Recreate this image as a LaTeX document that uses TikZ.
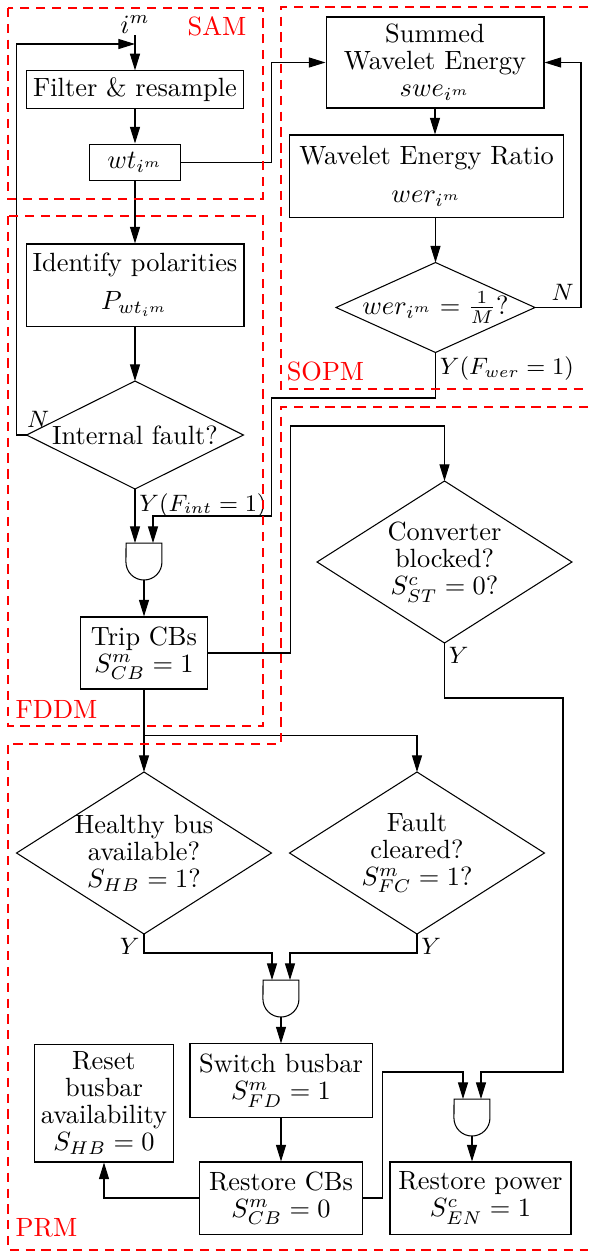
\documentclass[tikz,border=0pt]{standalone}
\usepackage{amsmath}
\usetikzlibrary{arrows.meta,shapes.geometric}

% AND gate with a flat top and a round bottom: #1 name, #2 centre
\newcommand{\andgate}[2]{%
  \node[gate] (#1) at (#2) {};
  \draw (#1.north west) -- (#1.north east) -- ++(0,-19)
    arc[start angle=0, end angle=-180, radius=18] -- cycle;
  \path (#1.north) ++(-9,0) coordinate (#1-l)
        (#1.north) ++(9,0) coordinate (#1-r);
}

\begin{document}
\begin{tikzpicture}[
    x=0.379pt, y=0.379pt,
    font=\fontsize{10}{10.3}\selectfont,
    box/.style={rectangle, draw, align=center, inner sep=2.5pt},
    decision/.style={diamond, draw, align=center, aspect=1.6, inner sep=-2pt, outer sep=0pt},
    gate/.style={rectangle, minimum width=13.6pt, minimum height=14pt, inner sep=0pt, outer sep=0pt},
    arrow/.style={-{Triangle[length=6.3pt, width=3.8pt]}},
    region/.style={draw=red, thick, dash pattern=on 3.5pt off 2.5pt},
    regionlabel/.style={text=red, inner sep=0pt},
    lbl/.style={inner sep=1.5pt, font=\small}
]
    \useasboundingbox (0,0) rectangle (588,-1253);

    % fault detection chain
    \node[anchor=south, inner sep=0.5pt] (im) at (135,-35) {$i^m$};
    \coordinate (join) at (135,-44);
    \node[box, minimum width=82.2pt, minimum height=14pt] (filter) at (135,-89.5) {Filter \& resample};
    \node[box, minimum width=34.5pt, minimum height=14pt] (wt) at (135,-162.5) {$wt_{i^m}$};
    \node[box, minimum width=82.2pt, minimum height=31.1pt] (ident) at (135,-285) {Identify polarities\\[4pt] $P_{wt_{i^m}}$};
    \node[decision, aspect=2, minimum width=82.2pt, minimum height=40.9pt] (fault) at (135,-435) {Internal fault?};
    \andgate{and1}{144,-561.5}
    \node[box, minimum width=48.1pt, minimum height=27.3pt] (trip) at (144,-653) {Trip CBs\\ $S^m_{CB}=1$};

    % wavelet energy branch
    \node[box, minimum width=82.6pt, minimum height=34.5pt] (summed) at (435,-62.5) {Summed\\ Wavelet Energy\\ $swe_{i^m}$};
    \node[box, minimum width=103.5pt, minimum height=31.1pt] (werbox) at (426.5,-176) {Wavelet Energy Ratio\\[4pt] $wer_{i^m}$};
    \node[decision, aspect=2.2, inner sep=-3pt, minimum width=75.4pt, minimum height=34.1pt] (werq) at (435.5,-307.5) {$wer_{i^m}=\frac{1}{M}$?};

    % restoration
    \node[decision, minimum width=96.6pt, minimum height=61.4pt] (conv) at (444.5,-562) {Converter\\ blocked?\\ $S^c_{ST}=0$?};
    \node[decision, minimum width=96.6pt, minimum height=61.4pt] (healthy) at (144,-853) {Healthy bus\\ available?\\ $S_{HB}=1$?};
    \node[decision, minimum width=96.6pt, minimum height=61.4pt] (cleared) at (417,-853) {Fault\\ cleared?\\ $S^m_{FC}=1$?};
    \andgate{and2}{281,-998.5}
    \node[box, minimum width=69pt, minimum height=27.7pt] (switch) at (281,-1080.5) {Switch busbar\\ $S^m_{FD}=1$};
    \node[box, minimum width=51.5pt, minimum height=44.7pt] (reset) at (104,-1103) {Reset\\ busbar\\ availability\\ $S_{HB}=0$};
    \node[box, minimum width=61.8pt, minimum height=27.3pt] (rcb) at (281,-1198) {Restore CBs\\ $S^m_{CB}=0$};
    \andgate{and3}{472,-1117.5}
    \node[box, minimum width=68.6pt, minimum height=27.3pt] (power) at (480.5,-1198) {Restore power\\ $S^c_{EN}=1$};

    % connectors
    \draw[arrow] (im) -- (filter);
    \draw[arrow] (filter) -- (wt);
    \draw[arrow] (wt) -- (ident);
    \draw[arrow] (ident) -- (fault);
    \draw[arrow] (fault.west) node[lbl, anchor=south west, inner xsep=0pt, inner ysep=2.5pt] {$N$} -- ++(-10,0) |- (join);
    \draw[arrow] (fault.south) node[lbl, anchor=north west] {$Y(F_{int}=1)$} -- (and1-l);
    \draw[arrow] (wt.east) -- ++(90,0) |- (summed.west);
    \draw[arrow] (summed.south) -- (summed.south |- werbox.north);
    \draw[arrow] (werq.north |- werbox.south) -- (werq.north);
    \draw[arrow] (werq.east) -- node[lbl, pos=0.6, above, inner sep=2.5pt] {$N$} ++(46,0) |- (summed.east);
    \draw[arrow] (werq.south) node[lbl, anchor=north west] {$Y(F_{wer}=1)$} -- ++(0,-45.5) -- ++(-164,0) -- ++(0,-118) -| (and1-r);
    \draw[arrow] (and1) -- (trip);
    \draw[arrow] (trip.east) -- ++(82.5,0) -- ++(0,227) -| (conv.north);
    \draw[arrow] (trip) -- (healthy);
    \draw[arrow] (trip.south) -- ++(0,-46) -| (cleared.north);
    \draw[arrow] (conv.south) node[lbl, anchor=north west] {$Y$} -- ++(0,-55) -| ++(118.5,-374) -| (and3-r);
    \draw[arrow] (healthy.south) node[lbl, anchor=north east] {$Y$} -- ++(0,-19) -| (and2-l);
    \draw[arrow] (cleared.south) node[lbl, anchor=north west] {$Y$} -- ++(0,-19) -| (and2-r);
    \draw[arrow] (and2) -- (switch);
    \draw[arrow] (switch) -- (rcb);
    \draw[arrow] (rcb.west) -| (reset.south);
    \draw[arrow] (rcb.east) -- ++(19,0) -- ++(0,126) -| (and3-l);
    \draw[arrow] (and3.south) -- (and3.south |- power.north);

    % module borders
    \draw[region] (8,-8) rectangle (263,-199);
    \draw[region] (588,-7) -- (281,-7) -- (281,-389) -- (588,-389);
    \draw[region] (8,-216) rectangle (263,-726);
    \draw[region] (588,-407) -- (281,-407) -- (281,-744) -- (8,-744) -- (8,-1250) -- (588,-1250);
    \node[regionlabel] (samlbl) at (217,-26) {SAM};
    \node[regionlabel] (sopmlbl) at (325.5,-371.5) {SOPM};
    \node[regionlabel] (fddmlbl) at (56.5,-709.5) {FDDM};
    \node[regionlabel] (prmlbl) at (46.5,-1227.5) {PRM};
\end{tikzpicture}
\end{document}
